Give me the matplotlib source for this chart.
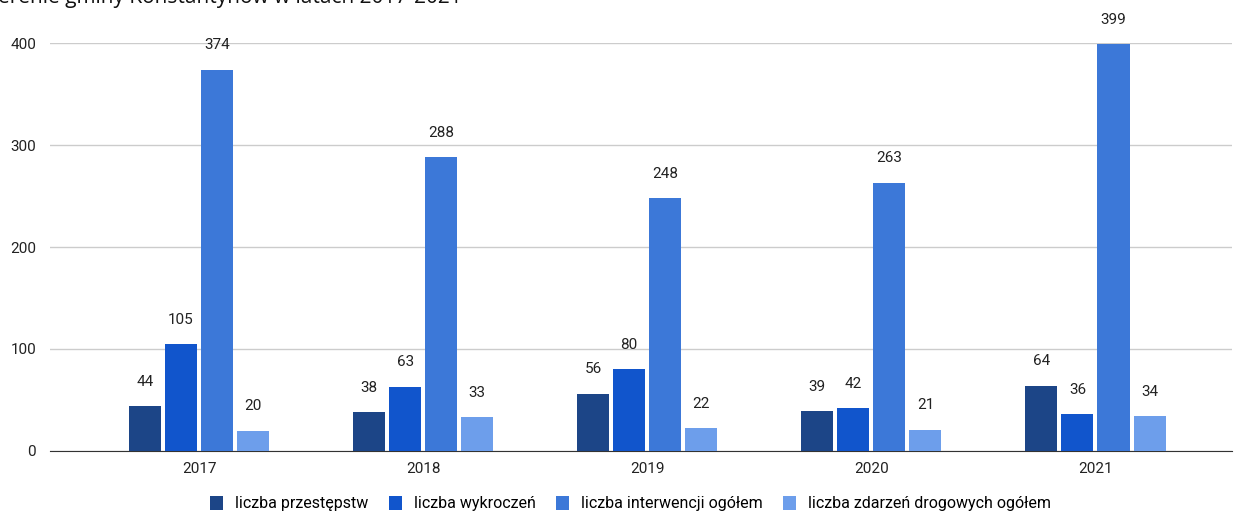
import numpy as np
import matplotlib.pyplot as plt

years = ['2017', '2018', '2019', '2020', '2021']
przestepstwa = [44, 38, 56, 39, 64]
wykroczenia = [105, 63, 80, 42, 36]
interwencje = [374, 288, 248, 263, 399]
zdarzenia = [20, 33, 22, 21, 34]

series = [
    ('liczba przestępstw', przestepstwa, '#1c4587'),
    ('liczba wykroczeń', wykroczenia, '#1155cc'),
    ('liczba interwencji ogółem', interwencje, '#3c78d8'),
    ('liczba zdarzeń drogowych ogółem', zdarzenia, '#6d9eeb'),
]

plt.rcParams['font.family'] = ['Roboto', 'DejaVu Sans']

fig = plt.figure(figsize=(12.34, 5.13), dpi=100)
ax = fig.add_axes([0.0405, 0.121, 0.958, 0.795])

x = np.arange(len(years))
width = 0.143
step = 0.161
for i, (name, vals, col) in enumerate(series):
    pos = x + (i - 1.5) * step
    ax.bar(pos, vals, width, color=col, label=name, zorder=3)
    for p, v in zip(pos, vals):
        ax.text(p, v + 17, str(v), ha='center', va='bottom', fontsize=11,
                color='#222222')

ax.set_xlim(-0.665, 4.61)
ax.set_ylim(0, 400)
ax.set_yticks([0, 100, 200, 300, 400])
ax.set_xticks(x)
ax.set_xticklabels(years)
ax.grid(axis='y', color='#cccccc', linewidth=1, zorder=0)
for s in ['top', 'right', 'left']:
    ax.spines[s].set_visible(False)
ax.spines['bottom'].set_color('#333333')
ax.tick_params(axis='both', length=0, labelsize=11, colors='#222222')
ax.tick_params(axis='y', pad=10)
ax.tick_params(axis='x', pad=8)

fig.legend(loc='lower center', bbox_to_anchor=(0.511, -0.025), ncol=4,
           frameon=False, fontsize=11.5, handlelength=0.8, handleheight=1.0,
           columnspacing=1.3, handletextpad=0.75)

fig.text(-0.002, 1.025, 'erenie gminy Konstantynów w latach 2017-2021',
         fontsize=15, family=['Open Sans', 'DejaVu Sans'], va='top', color='#111111')

fig.savefig('out.png', dpi=100)
